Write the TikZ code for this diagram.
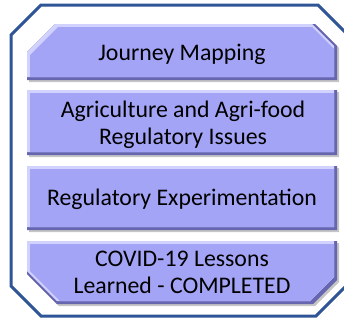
\documentclass[tikz,border=0pt]{standalone}
\usepackage{fontspec}
\setmainfont{Carlito}
\definecolor{frameblue}{HTML}{2F5597}
\definecolor{boxmain}{HTML}{A4A4F6}
\definecolor{boxlight}{HTML}{D2D2FF}
\definecolor{boxdark}{HTML}{6666B0}
\tikzset{lbl/.style={font=\fontsize{23.8}{26.5}\selectfont, anchor=base, inner sep=0pt, text=black}}
\newcommand\BBlayer[5]{\fill[#1] ({\BBx+#2},{\BBy+#3+\BBtl}) -- ({\BBx+#2+\BBtl},{\BBy+#3}) -- ({\BBX-(#4)-\BBtr},{\BBy+#3}) -- ({\BBX-(#4)},{\BBy+#3+\BBtr}) -- ({\BBX-(#4)},{\BBY-(#5)-\BBbr}) -- ({\BBX-(#4)-\BBbr},{\BBY-(#5)}) -- ({\BBx+#2+\BBbl},{\BBY-(#5)}) -- ({\BBx+#2},{\BBY-(#5)-\BBbl}) -- cycle;}
\newcommand\BBbox[8]{\def\BBx{#1}\def\BBy{#2}\def\BBX{#3}\def\BBY{#4}\def\BBtl{#5}\def\BBtr{#6}\def\BBbl{#7}\def\BBbr{#8}%
 \BBlayer{black!50,opacity=.45}{2}{2}{-2}{-2}%
 \BBlayer{boxdark}{0}{0}{0}{0}%
 \BBlayer{boxlight}{0}{0}{3}{3}%
 \BBlayer{boxmain}{3}{3}{3}{3}}
\begin{document}
\begin{tikzpicture}[x=1pt,y=-1pt]
\useasboundingbox (0,0) rectangle (344,322);
\clip (0,0) rectangle (344,322);
\fill[white] (0,0) rectangle (344,322);
\draw[frameblue, line width=3pt, line join=miter] (11,35) -- (41,5) -- (318,5) -- (346,33) -- (346,286) -- (316,316) -- (41,316) -- (11,286) -- cycle;
\BBbox{27}{24}{337}{80}{28}{22}{0}{0}
\BBbox{27}{90}{337}{155}{0}{0}{0}{0}
\BBbox{27}{166}{337}{230}{0}{0}{0}{0}
\BBbox{27}{241}{337}{304}{0}{0}{30}{24}
\node[lbl] (jm) at (182,60) {Journey Mapping};
\node[lbl] (ag1) at (183,117.5) {Agriculture and Agri-food};
\node[lbl] (ag2) at (183,144) {Regulatory Issues};
\node[lbl] (re) at (182,205) {Regulatory Experimentation};
\node[lbl] (cv1) at (182,266.5) {COVID-19 Lessons};
\node[lbl] (cv2) at (182,293) {Learned - COMPLETED};
\end{tikzpicture}
\end{document}
